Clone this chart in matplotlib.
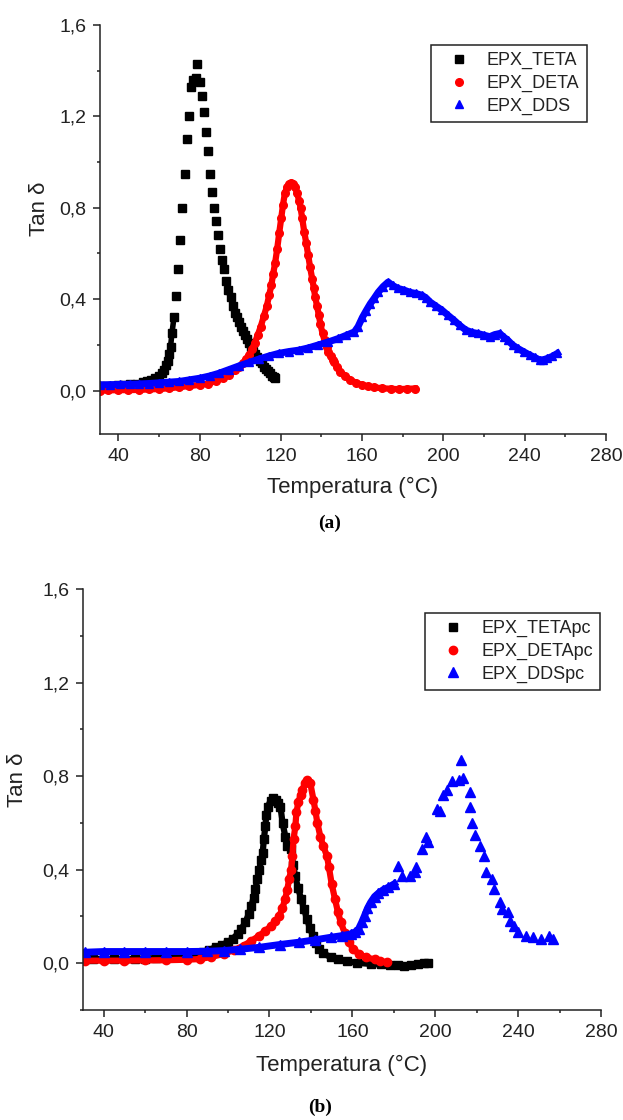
import matplotlib.pyplot as plt
from matplotlib.ticker import MultipleLocator, FuncFormatter

plt.rcParams['font.family'] = ['Liberation Sans', 'DejaVu Sans']

# ---- (a) ----
teta_T = [31, 34, 37, 40, 43, 46, 49, 52, 54, 56, 58, 60, 61.5, 62.5, 63.5, 64.3, 65, 65.7,
          66.4, 67.4, 68.3, 69.5, 70.5, 71.5, 73, 74, 75, 76, 77, 78, 78.8, 80, 81, 82, 83.3,
          84.3, 85.3, 86.2, 87.2, 88.2, 89.2, 90.2, 91.2, 92.1, 93.1, 94.1, 95.3, 96.5, 97.5,
          98.5, 99.5, 100.5, 101.5, 102.5, 103.5, 104.5, 105.5, 106.5, 107.5, 108.5, 109.5,
          110.5, 111.5, 112.5, 113.5, 114.5, 115.5, 116.5, 117]
teta_y = [0.020, 0.021, 0.022, 0.023, 0.025, 0.028, 0.031, 0.036, 0.042, 0.047, 0.055, 0.065,
          0.075, 0.09, 0.11, 0.13, 0.16, 0.19, 0.25, 0.32, 0.415, 0.53, 0.66, 0.80, 0.95, 1.10,
          1.20, 1.33, 1.36, 1.37, 1.43, 1.35, 1.29, 1.22, 1.13, 1.05, 0.95, 0.87, 0.80, 0.74,
          0.68, 0.62, 0.57, 0.53, 0.48, 0.44, 0.41, 0.37, 0.34, 0.32, 0.30, 0.28, 0.26, 0.245,
          0.225, 0.21, 0.19, 0.175, 0.16, 0.145, 0.13, 0.12, 0.105, 0.095, 0.085, 0.075, 0.065,
          0.058, 0.054]

deta_T = [31, 35, 40, 45, 50, 55, 60, 65, 70, 75, 80, 84, 88, 91.5, 94.5, 97.4, 99.5, 101.3,
          103, 104.3, 105.8, 107.2, 108.7, 110.1, 111.6, 113.1, 114.3, 115.3, 116.2, 117.2,
          118.2, 119.2, 120.2, 121, 122, 123.1, 124.2, 125.1, 126, 127, 128, 129, 129.7, 130.5,
          131.5, 132.5, 133.4, 134.4, 135.4, 136.2, 136.9, 137.8, 138.7, 139.5, 140.5, 141.5,
          142.5, 143.4, 144.5, 145.5, 146.4, 147.8, 149.3, 151.5, 154.2, 157, 160, 163, 166,
          170, 174, 178, 182, 186]
deta_y = [0.0, 0.001, 0.002, 0.002, 0.003, 0.005, 0.007, 0.010, 0.015, 0.020, 0.025, 0.030,
          0.042, 0.054, 0.070, 0.090, 0.105, 0.120, 0.140, 0.156, 0.180, 0.210, 0.245, 0.280,
          0.325, 0.370, 0.420, 0.460, 0.510, 0.560, 0.620, 0.690, 0.755, 0.810, 0.865, 0.890,
          0.905, 0.910, 0.905, 0.890, 0.865, 0.830, 0.800, 0.755, 0.695, 0.645, 0.595, 0.540,
          0.490, 0.450, 0.410, 0.370, 0.330, 0.290, 0.250, 0.220, 0.190, 0.170, 0.150, 0.135,
          0.127, 0.105, 0.083, 0.065, 0.047, 0.034, 0.025, 0.018, 0.014, 0.010, 0.008, 0.006,
          0.008, 0.009]

dds_T = [31, 36, 41, 46, 50, 55, 60, 65, 70, 75, 80, 85, 89.6, 94.5, 99.4, 104.3, 109.2, 114,
         119, 124, 128.8, 133.6, 138.5, 143.4, 148.3, 152.2, 156.2, 158, 160.1, 162, 164, 166,
         167.9, 170.3, 172.8, 175, 177.7, 180.6, 183.6, 186.5, 189.5, 191.5, 193.4, 196.3,
         199.3, 202.2, 205.2, 208.1, 211, 214, 216.9, 219.8, 222.8, 225.2, 227.7, 229.6, 231.6,
         234, 236.5, 239.5, 242.4, 245, 247.3, 249.2, 251.2, 253.6, 256.1]
dds_y = [0.025, 0.026, 0.027, 0.028, 0.029, 0.031, 0.034, 0.037, 0.040, 0.047, 0.054, 0.064,
         0.076, 0.092, 0.108, 0.123, 0.138, 0.151, 0.163, 0.171, 0.177, 0.187, 0.200, 0.213,
         0.228, 0.242, 0.257, 0.280, 0.320, 0.350, 0.380, 0.405, 0.430, 0.455, 0.475, 0.460,
         0.447, 0.440, 0.430, 0.425, 0.417, 0.405, 0.388, 0.370, 0.352, 0.330, 0.308, 0.285,
         0.265, 0.255, 0.250, 0.243, 0.236, 0.245, 0.250, 0.235, 0.221, 0.200, 0.185, 0.170,
         0.156, 0.145, 0.134, 0.135, 0.141, 0.150, 0.163]

# ---- (b) ----
tetapc_T = [30.8, 35, 40, 45, 50, 55, 60, 65, 70, 75, 80, 84, 88, 91, 94, 97, 99.8, 102.3,
            104.6, 106.5, 108.4, 110, 111.3, 112.3, 113.2, 114.2, 115.1, 116, 116.7, 117.3,
            118, 118.5, 119.3, 120.5, 121.9, 123.3, 124.3, 125.3, 126.3, 127.7, 128.7, 130.5,
            131.4, 132.4, 133.8, 135.3, 136.7, 138.1, 139.5, 141, 142.4, 143.9, 146, 149.6,
            153, 157.3, 162, 168.8, 174, 178.4, 182, 185.1, 188.5, 191.8, 194.5, 196.6]
tetapc_y = [0.018, 0.018, 0.018, 0.018, 0.018, 0.019, 0.020, 0.022, 0.025, 0.030, 0.036,
            0.042, 0.050, 0.058, 0.068, 0.078, 0.090, 0.105, 0.125, 0.148, 0.175, 0.210,
            0.246, 0.280, 0.317, 0.360, 0.400, 0.440, 0.470, 0.530, 0.585, 0.635, 0.670,
            0.695, 0.708, 0.700, 0.685, 0.670, 0.600, 0.540, 0.500, 0.490, 0.420, 0.374,
            0.320, 0.275, 0.230, 0.190, 0.150, 0.118, 0.088, 0.061, 0.042, 0.026, 0.017,
            0.008, 0.002, -0.003, -0.005, -0.007, -0.009, -0.010, -0.006, -0.003, 0.0, 0.001]

detapc_T = [30.8, 40, 50, 60, 70, 80, 86.4, 92, 97.9, 102.7, 107.5, 111.3, 115.1, 118, 120.9,
            122.8, 124.7, 126.2, 127.6, 128.6, 129.5, 130.5, 131.1, 131.6, 132.5, 133, 134,
            135, 135.9, 137, 138.3, 139.7, 141.2, 142.2, 143.1, 144.6, 146, 147.8, 148.7, 150,
            151.6, 153, 154.4, 156.3, 158.3, 160.5, 163.1, 166.5, 170.7, 173.5, 176.5]
detapc_y = [0.011, 0.011, 0.011, 0.012, 0.013, 0.015, 0.018, 0.027, 0.040, 0.056, 0.075,
            0.096, 0.118, 0.138, 0.160, 0.180, 0.200, 0.235, 0.275, 0.315, 0.360, 0.400,
            0.460, 0.530, 0.585, 0.645, 0.690, 0.720, 0.740, 0.770, 0.785, 0.770, 0.700,
            0.650, 0.600, 0.540, 0.500, 0.457, 0.410, 0.340, 0.275, 0.220, 0.175, 0.130,
            0.090, 0.060, 0.040, 0.026, 0.016, 0.009, 0.004]

ddspc_T = [30.8, 40, 50, 60, 70, 80, 90, 97.9, 106, 115.1, 125, 134.3, 142, 149.6, 155, 159.2,
           161.5, 163, 164.5, 165.9, 167.3, 168.8, 170.7, 172.6, 175, 177.4, 180.3, 182.2,
           184.1, 188, 190, 190.9, 193.7, 195.7, 196.6, 201, 202.4, 203.9, 205.8, 208.2,
           211.6, 212.5, 213.5, 216.9, 216.9, 217.8, 219.3, 221.5, 223.4, 224.4, 227.3, 228.2,
           231.1, 232, 234.9, 235.9, 237.8, 239.7, 243.6, 247.4, 251.2, 255, 256.9]
ddspc_y = [0.047, 0.050, 0.050, 0.050, 0.050, 0.050, 0.051, 0.054, 0.060, 0.068, 0.080, 0.090,
           0.100, 0.111, 0.118, 0.125, 0.135, 0.147, 0.175, 0.204, 0.235, 0.260, 0.285, 0.300,
           0.315, 0.325, 0.340, 0.417, 0.374, 0.374, 0.389, 0.410, 0.488, 0.540, 0.517, 0.660,
           0.650, 0.720, 0.740, 0.780, 0.785, 0.870, 0.790, 0.730, 0.670, 0.600, 0.550, 0.500,
           0.460, 0.390, 0.360, 0.317, 0.260, 0.232, 0.218, 0.182, 0.160, 0.132, 0.118, 0.111,
           0.104, 0.118, 0.104]

AXCOL = '#222222'
comma = FuncFormatter(lambda v, p: f"{v:.1f}".replace('.', ','))


def style_axes(ax, xlim, ylim):
    ax.set_xlim(*xlim)
    ax.set_ylim(*ylim)
    ax.xaxis.set_major_locator(MultipleLocator(40))
    ax.xaxis.set_minor_locator(MultipleLocator(20))
    ax.yaxis.set_major_locator(MultipleLocator(0.4))
    ax.yaxis.set_minor_locator(MultipleLocator(0.2))
    ax.yaxis.set_major_formatter(comma)
    ax.spines['top'].set_visible(False)
    ax.spines['right'].set_visible(False)
    for s in ('left', 'bottom'):
        ax.spines[s].set_color(AXCOL)
        ax.spines[s].set_linewidth(1.1)
    ax.tick_params(which='major', direction='out', length=5, width=1.1, color=AXCOL,
                   labelsize=14, labelcolor='#222222', pad=5)
    ax.tick_params(which='minor', direction='out', length=2.5, width=1.1, color=AXCOL)
    ax.set_xlabel('Temperatura (°C)', fontsize=16, color='#222222')
    ax.set_ylabel('Tan δ', fontsize=16, color='#222222')


fig = plt.figure(figsize=(6.23, 11.2), dpi=100)
ax1 = fig.add_axes([0.1605, 0.6125, 0.8122, 0.3652])
ax2 = fig.add_axes([0.1332, 0.0982, 0.8315, 0.3759])

# panel (a)
ax1.plot(teta_T[:20], teta_y[:20], color='black', lw=4, zorder=2)
ax1.plot(teta_T[45:], teta_y[45:], color='black', lw=4.5, zorder=2)
ax1.plot(teta_T, teta_y, ls='none', marker='s', ms=5.5, color='black', label='EPX_TETA', zorder=2)
ax1.plot(deta_T, deta_y, color='#ff0000', lw=4.5, zorder=2.2)
ax1.plot(deta_T, deta_y, ls='none', marker='o', ms=5.5, color='#ff0000', label='EPX_DETA', zorder=2.2)
ax1.plot(dds_T, dds_y, color='#0000ff', lw=5, zorder=2.5)
ax1.plot(dds_T, dds_y, ls='none', marker='^', ms=6, color='#0000ff', label='EPX_DDS', zorder=2.5)

# panel (b)
ax2.plot(tetapc_T, tetapc_y, color='black', lw=4.5, zorder=2)
ax2.plot(tetapc_T, tetapc_y, ls='none', marker='s', ms=5.5, color='black', label='EPX_TETApc', zorder=2)
ax2.plot(detapc_T, detapc_y, color='#ff0000', lw=4.5, zorder=2.2)
ax2.plot(detapc_T, detapc_y, ls='none', marker='o', ms=6, color='#ff0000', label='EPX_DETApc', zorder=2.2)
ax2.plot(ddspc_T[:27], ddspc_y[:27], color='#0000ff', lw=5, zorder=2.5)
ax2.plot(ddspc_T, ddspc_y, ls='none', marker='^', ms=7, color='#0000ff', label='EPX_DDSpc', zorder=2.5)

style_axes(ax1, (31, 280), (-0.19, 1.6))
style_axes(ax2, (30, 280), (-0.2, 1.6))

ax1.yaxis.set_label_coords(-0.099, 0.55)
ax2.yaxis.set_label_coords(-0.106, 0.546)
ax1.xaxis.set_label_coords(0.5, -0.105)
ax2.xaxis.set_label_coords(0.5, -0.107)

for ax, anchor in ((ax1, (0.962, 0.951)), (ax2, (0.998, 0.943))):
    leg = ax.legend(loc='upper right', bbox_to_anchor=anchor, fontsize=13, frameon=True,
                    fancybox=False, framealpha=1, edgecolor='#222222', borderpad=0.4,
                    handlelength=2.3, handletextpad=0.4, labelspacing=0.3, numpoints=1,
                    borderaxespad=0)
    leg.get_frame().set_linewidth(1.1)
    for t in leg.get_texts():
        t.set_color('#222222')

fig.text(330 / 623, 1 - 523 / 1120, '(a)', ha='center', va='center', fontsize=14,
         fontweight='bold', family='Liberation Serif')
fig.text(320 / 623, 1 - 1107 / 1120, '(b)', ha='center', va='center', fontsize=14,
         fontweight='bold', family='Liberation Serif')

fig.savefig('out.png', dpi=100, facecolor='white')
